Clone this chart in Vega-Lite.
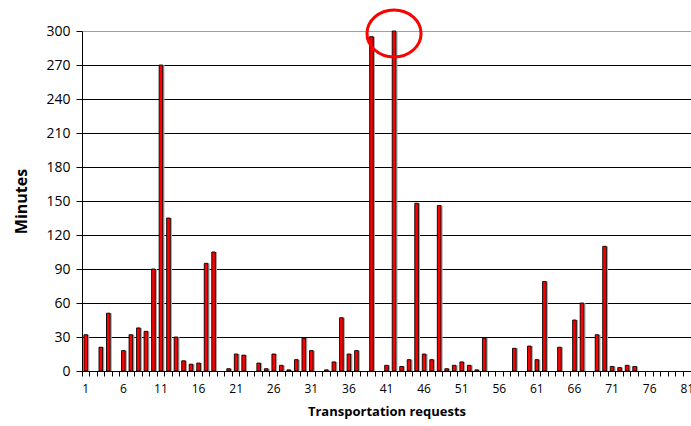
{
  "$schema": "https://vega.github.io/schema/vega-lite/v6.json",
  "autosize": {"type": "none"},
  "width": 609,
  "height": 340,
  "padding": {"left": 82, "top": 31, "right": 0, "bottom": 55},
  "background": "white",
  "config": {
    "view": {"stroke": null},
    "axis": {"domainColor": "black", "tickColor": "black", "labelColor": "black", "titleColor": "black", "labelFont": "Open Sans", "titleFont": "Open Sans"}
  },
  "data": {"values": [
    {"req": 1, "v": 32}, {"req": 2, "v": 0}, {"req": 3, "v": 21}, {"req": 4, "v": 51}, {"req": 5, "v": 0},
    {"req": 6, "v": 18}, {"req": 7, "v": 32}, {"req": 8, "v": 38}, {"req": 9, "v": 35}, {"req": 10, "v": 90},
    {"req": 11, "v": 270}, {"req": 12, "v": 135}, {"req": 13, "v": 30}, {"req": 14, "v": 9}, {"req": 15, "v": 6},
    {"req": 16, "v": 7}, {"req": 17, "v": 95}, {"req": 18, "v": 105}, {"req": 19, "v": 0}, {"req": 20, "v": 2},
    {"req": 21, "v": 15}, {"req": 22, "v": 14}, {"req": 23, "v": 0}, {"req": 24, "v": 7}, {"req": 25, "v": 2},
    {"req": 26, "v": 15}, {"req": 27, "v": 5}, {"req": 28, "v": 1}, {"req": 29, "v": 10}, {"req": 30, "v": 29},
    {"req": 31, "v": 18}, {"req": 32, "v": 0}, {"req": 33, "v": 1}, {"req": 34, "v": 8}, {"req": 35, "v": 47},
    {"req": 36, "v": 15}, {"req": 37, "v": 18}, {"req": 38, "v": 0}, {"req": 39, "v": 295}, {"req": 40, "v": 0},
    {"req": 41, "v": 5}, {"req": 42, "v": 300}, {"req": 43, "v": 4}, {"req": 44, "v": 10}, {"req": 45, "v": 148},
    {"req": 46, "v": 15}, {"req": 47, "v": 10}, {"req": 48, "v": 146}, {"req": 49, "v": 2}, {"req": 50, "v": 5},
    {"req": 51, "v": 8}, {"req": 52, "v": 5}, {"req": 53, "v": 1}, {"req": 54, "v": 29}, {"req": 55, "v": 0},
    {"req": 56, "v": 0}, {"req": 57, "v": 0}, {"req": 58, "v": 20}, {"req": 59, "v": 0}, {"req": 60, "v": 22},
    {"req": 61, "v": 10}, {"req": 62, "v": 79}, {"req": 63, "v": 0}, {"req": 64, "v": 21}, {"req": 65, "v": 0},
    {"req": 66, "v": 45}, {"req": 67, "v": 60}, {"req": 68, "v": 0}, {"req": 69, "v": 32}, {"req": 70, "v": 110},
    {"req": 71, "v": 4}, {"req": 72, "v": 3}, {"req": 73, "v": 5}, {"req": 74, "v": 4}, {"req": 75, "v": 0},
    {"req": 76, "v": 0}, {"req": 77, "v": 0}, {"req": 78, "v": 0}, {"req": 79, "v": 0}, {"req": 80, "v": 0},
    {"req": 81, "v": 0}
  ]},
  "encoding": {
    "x": {
      "field": "req", "type": "ordinal",
      "scale": {"domain": [1,2,3,4,5,6,7,8,9,10,11,12,13,14,15,16,17,18,19,20,21,22,23,24,25,26,27,28,29,30,31,32,33,34,35,36,37,38,39,40,41,42,43,44,45,46,47,48,49,50,51,52,53,54,55,56,57,58,59,60,61,62,63,64,65,66,67,68,69,70,71,72,73,74,75,76,77,78,79,80,81], "paddingInner": 0, "paddingOuter": 0},
      "axis": {
        "title": "Transportation requests", "titleFontSize": 13, "titleFontWeight": "bold", "titlePadding": 11,
        "labelAngle": 0, "labelFontSize": 12, "labelPadding": 7, "tickSize": 5, "bandPosition": 0,
        "labelExpr": "(datum.value - 1) % 5 == 0 ? datum.label : ''", "labelOverlap": false, "grid": false
      }
    },
    "y": {
      "field": "v", "type": "quantitative",
      "scale": {"domain": [0, 300], "nice": false},
      "axis": {
        "title": "Minutes", "titleFontSize": 16, "titleFontWeight": "bold", "titlePadding": 16,
        "values": [0,30,60,90,120,150,180,210,240,270,300], "labelFontSize": 14, "labelPadding": 6, "tickSize": 6,
        "grid": true, "gridColor": {"condition": {"test": "datum.value === 300", "value": "#a0a0a0"}, "value": "black"}, "gridWidth": 1
      }
    }
  },
  "layer": [
    {
      "transform": [{"filter": "datum.v > 0"}],
      "mark": {"type": "bar", "width": 4, "color": "#a8a8a8", "xOffset": 1.5}
    },
    {
      "transform": [{"filter": "datum.v > 0"}],
      "mark": {"type": "bar", "width": 3.6, "fill": "#ff0000", "stroke": "black", "strokeWidth": 0.9}
    },
    {
      "data": {"values": [{"req": 42, "v": 300}]},
      "mark": {"type": "point", "shape": "M-1.15,0A1.15,1,0,1,0,1.15,0A1.15,1,0,1,0,-1.15,0Z", "size": 2209, "filled": false, "stroke": "#ff0000", "strokeWidth": 3, "opacity": 1, "yOffset": 2.5}
    }
  ]
}
